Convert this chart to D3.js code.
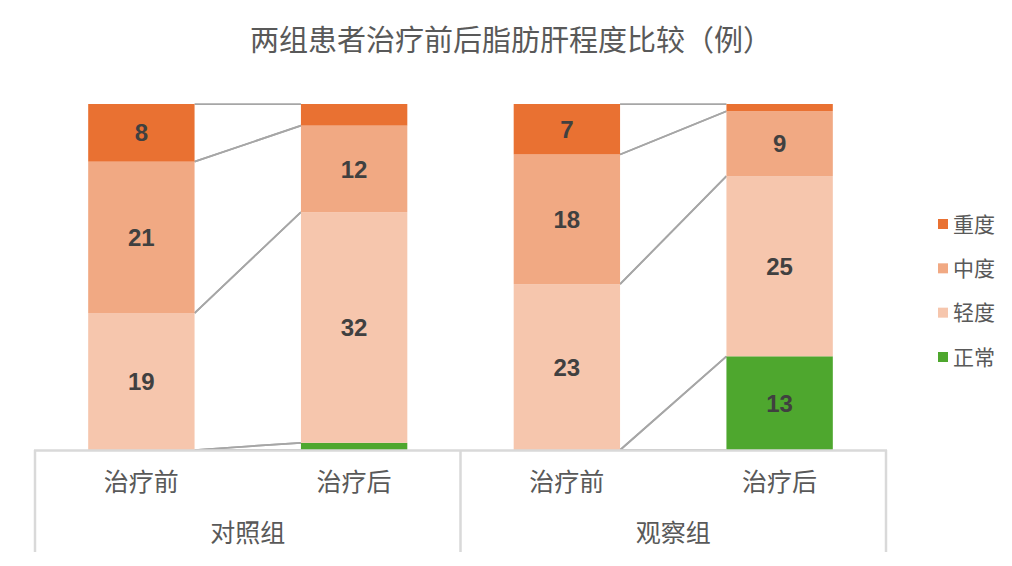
<!DOCTYPE html>
<html><head><meta charset="utf-8">
<script src="https://cdn.jsdelivr.net/npm/d3@7"></script>
<style>body{margin:0;background:#fff}</style></head>
<body><svg id="c" width="1012" height="566"></svg>
<script>
const groups = ["对照组","观察组"];
const stages = ["治疗前","治疗后"];
const series = ["正常","轻度","中度","重度"];
const normal = [0,1,0,13];
const mild = [19,32,23,25];
const moderate = [21,12,18,9];
const severe = [8,3,7,1];
const colors = ["#4EA72E","#F6C6AD","#F1A983","#E97132"];
const legendOrder = ["重度","中度","轻度","正常"];

const cats = [];
groups.forEach((g,gi)=>stages.forEach((s,si)=>cats.push({g,s,key:g+"|"+s})));
const values = [normal,mild,moderate,severe];
const rows = cats.map((c,i)=>{const o={key:c.key}; series.forEach((k,j)=>o[k]=values[j][i]); return o;});
const stacked = d3.stack().keys(series)(rows);

const svg = d3.select("#c");
const cjk = "'Noto Sans CJK SC','Liberation Sans',sans-serif";
const x = d3.scaleBand().domain(cats.map(c=>c.key)).range([35,886]).paddingInner(0.5).paddingOuter(0.25);
const y = d3.scaleLinear().domain([0,48]).range([450,104]);

// title
svg.append("text").attr("x",511).attr("y",51).attr("text-anchor","middle")
  .attr("font-family",cjk).attr("font-size",29).attr("fill","#595959")
  .text("两组患者治疗前后脂肪肝程度比较（例）");

// series lines within each group
const lineG = svg.append("g");
stacked.forEach(layer=>{
  groups.forEach((g,gi)=>{
    const a = layer[gi*2], b = layer[gi*2+1];
    const ka = cats[gi*2].key, kb = cats[gi*2+1].key;
    const pairs = [[a[0],b[0]],[a[1],b[1]]];
    pairs.forEach(p=>{
      lineG.append("line")
        .attr("x1",x(ka)+x.bandwidth()).attr("y1",y(p[0]))
        .attr("x2",x(kb)).attr("y2",y(p[1]))
        .attr("stroke","#A6A6A6").attr("stroke-width",1.75);
    });
  });
});

// bars
stacked.forEach((layer,li)=>{
  svg.append("g").selectAll("rect").data(layer).join("rect")
    .attr("x",d=>x(d.data.key)).attr("width",x.bandwidth())
    .attr("y",d=>y(d[1])).attr("height",d=>y(d[0])-y(d[1]))
    .attr("fill",colors[li]);
});

// labels
stacked.forEach((layer,li)=>{
  svg.append("g").selectAll("text").data(layer.filter(d=>d[1]-d[0]>=5)).join("text")
    .attr("x",d=>x(d.data.key)+x.bandwidth()/2)
    .attr("y",d=>(y(d[0])+y(d[1]))/2)
    .attr("dy","0.36em").attr("text-anchor","middle")
    .attr("font-family","'Liberation Sans',Arial,sans-serif").attr("font-weight","bold")
    .attr("font-size",24).attr("fill","#404040")
    .text(d=>d[1]-d[0]);
});

// axis
const axG = svg.append("g");
axG.append("line").attr("x1",34).attr("x2",887).attr("y1",450.5).attr("y2",450.5)
  .attr("stroke","#D9D9D9").attr("stroke-width",2.5);
const step = x.step();
const bounds = [35, 35+2*step, 886];
bounds.forEach(bx=>{
  axG.append("line").attr("x1",bx).attr("x2",bx).attr("y1",450).attr("y2",552)
    .attr("stroke","#D9D9D9").attr("stroke-width",2.5);
});
cats.forEach(c=>{
  axG.append("text").attr("x",x(c.key)+x.bandwidth()/2).attr("y",482).attr("dy","0.36em")
    .attr("text-anchor","middle").attr("font-family",cjk).attr("font-size",25)
    .attr("fill","#595959").text(c.s);
});
groups.forEach((g,gi)=>{
  axG.append("text").attr("x",(bounds[gi]+bounds[gi+1])/2).attr("y",533).attr("dy","0.36em")
    .attr("text-anchor","middle").attr("font-family",cjk).attr("font-size",25)
    .attr("fill","#595959").text(g);
});

// legend
const lg = svg.append("g");
const ly = d3.scalePoint().domain(legendOrder).range([224,357]);
legendOrder.forEach(k=>{
  const ci = series.indexOf(k);
  lg.append("rect").attr("x",938).attr("y",ly(k)-5).attr("width",10).attr("height",10).attr("fill",colors[ci]);
  lg.append("text").attr("x",953).attr("y",ly(k)).attr("dy","0.36em")
    .attr("font-family",cjk).attr("font-size",21).attr("fill","#595959").text(k);
});
</script></body></html>
